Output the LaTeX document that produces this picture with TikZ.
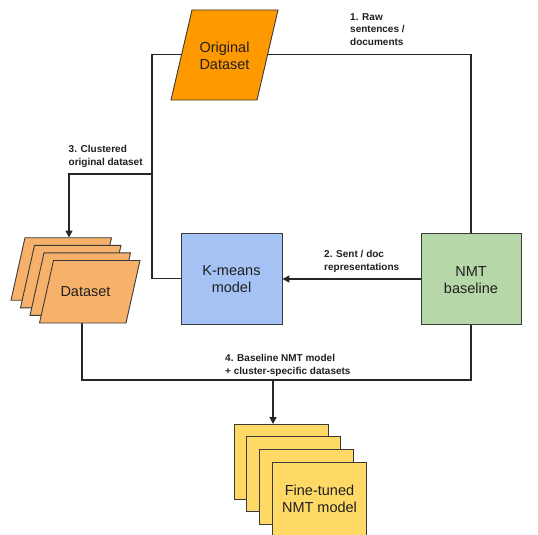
\documentclass[tikz,border=0pt]{standalone}
\usepackage{fontspec}
\setmainfont{Liberation Sans}
\usetikzlibrary{arrows.meta}
\definecolor{origc}{HTML}{FF9900}
\definecolor{datac}{HTML}{F6B26B}
\definecolor{kmc}{HTML}{A4C2F4}
\definecolor{nmtc}{HTML}{B6D7A8}
\definecolor{ftc}{HTML}{FFD966}
\definecolor{outl}{HTML}{3A3A3A}
\definecolor{lin}{HTML}{262626}
\definecolor{txtc}{HTML}{1F1F1F}
\begin{document}
\begin{tikzpicture}[x=1pt,y=-1pt,
  shapeline/.style={draw=outl, line width=0.9pt},
  boxnode/.style={shapeline, minimum height=91pt, inner sep=0pt},
  conn/.style={draw=lin, line width=1.4pt},
  arr/.style={conn, -{Triangle[length=7pt,width=7pt]}},
  lbl/.style={font=\fontsize{10}{12.6}\selectfont\bfseries, align=left, anchor=north west, inner sep=0pt, text=txtc},
  txt/.style={font=\fontsize{14.5}{17}\selectfont, align=center, text=txtc, inner sep=0pt}]
\useasboundingbox (0,0) rectangle (538,535);
% box outlines used as anchors
\node[boxnode, minimum width=101pt] (km) at (231.5,278.5) {};
\node[boxnode, minimum width=100pt] (nmt) at (471,279) {};
\coordinate (dsbot) at (82,323);
\coordinate (dstop) at (69,237.5);
\coordinate (fttop) at (273,424);
\coordinate (tl) at (152,54.5);
\coordinate (br3) at (152,174);
\coordinate (bj) at (273,380);
% connectors
\draw[conn] (km.west) -| (tl) -| (nmt.north);
\draw[arr] (br3) -| (dstop);
\draw[arr] (nmt.west) -- (nmt.west -| km.east);
\draw[conn] (dsbot) |- (bj) -| (nmt.south);
\draw[arr] (bj) -- (fttop);
% boxes over lines
\node[boxnode, minimum width=101pt, fill=kmc] at (km) {};
\node[boxnode, minimum width=100pt, fill=nmtc] at (nmt) {};
\node[txt] (kmt) at (231.5,279) {K-means\\model};
\node[txt] (nmtt) at (471,280) {NMT\\baseline};
% original dataset parallelogram
\filldraw[shapeline, fill=origc] (192,10) -- (278,10) -- (257,100) -- (171,100) -- cycle;
\node[txt] (orig) at (224.5,55.5) {Original\\Dataset};
% dataset stack
\foreach \i in {3,2,1,0} {
  \begin{scope}[shift={(-9.5*\i,-7.6*\i)}]
    \filldraw[shapeline, fill=datac] (53.5,260.5) -- (140,260.5) -- (126,323) -- (39.5,323) -- cycle;
  \end{scope}
}
\node[txt] (ds) at (85.5,291.5) {Dataset};
% fine-tuned stack
\foreach \i in {3,2,1,0} {
  \filldraw[shapeline, fill=ftc] (272-12.6*\i,462-12.6*\i) rectangle ++(94,75);
}
\node[txt] (ft) at (319.5,499) {Fine-tuned\\NMT model};
% labels
\node[lbl] (l1) at (350,13.3) {1. Raw\\sentences /\\documents};
\node[lbl] (l2) at (324,250) {2. Sent / doc\\representations};
\node[lbl] (l3) at (68.5,145.3) {3. Clustered\\original dataset};
\node[lbl] (l4) at (225,354) {4. Baseline NMT model\\+ cluster-specific datasets};
\end{tikzpicture}
\end{document}
